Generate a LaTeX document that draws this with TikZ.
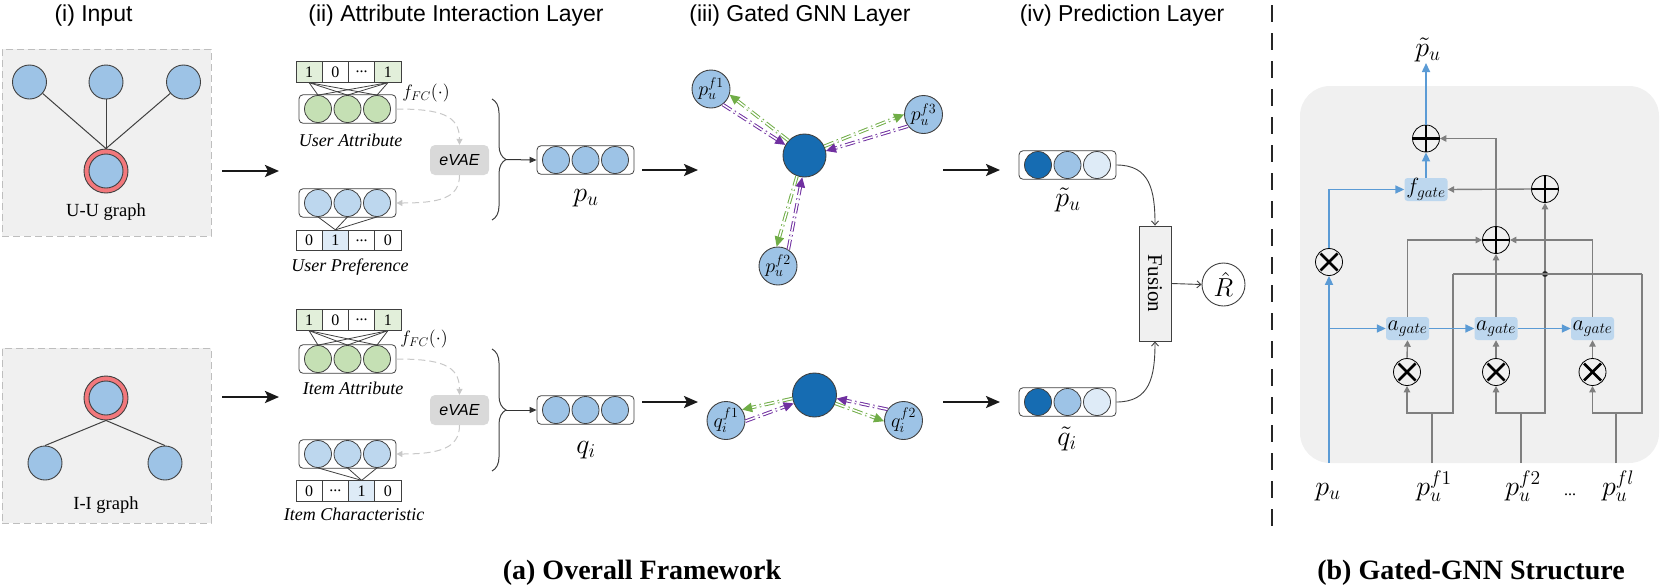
\documentclass[tikz,border=0pt]{standalone}
\usepackage{fontspec}
\setmainfont{Liberation Serif}
\setsansfont{Liberation Sans}
\DeclareFontShape{OML}{cmm}{m}{it}{<->cmmi12}{}
\DeclareFontShape{OMS}{cmsy}{m}{n}{<->cmsy10}{}
\DeclareFontShape{OMX}{cmex}{m}{n}{<->cmex10}{}
\DeclareFontShape{OT1}{cmr}{m}{n}{<->cmr12}{}
\usetikzlibrary{arrows.meta,calc,decorations.pathreplacing}
\newcommand\FS[1]{\fontsize{#1}{#1}\selectfont}
\definecolor{nodeblue}{RGB}{157,195,230}
\definecolor{ringred}{RGB}{242,120,124}
\definecolor{bggray}{RGB}{240,240,240}
\definecolor{dashgray}{RGB}{190,190,190}
\definecolor{evgray}{RGB}{200,200,200}
\definecolor{evfill}{RGB}{217,217,217}
\definecolor{lgreen}{RGB}{197,224,180}
\definecolor{cellgreen}{RGB}{226,239,218}
\definecolor{lblue}{RGB}{189,215,238}
\definecolor{cellblue}{RGB}{222,235,247}
\definecolor{dblue}{RGB}{22,108,178}
\definecolor{vlblue}{RGB}{222,235,247}
\definecolor{ggreen}{RGB}{112,173,71}
\definecolor{gpurple}{RGB}{112,48,160}
\definecolor{lgray}{RGB}{127,127,127}
\definecolor{lineblue}{RGB}{91,155,213}
\definecolor{bgray}{RGB}{64,64,64}
\tikzset{
 hdr/.style={font=\sffamily\FS{23}, anchor=base, inner sep=0},
 gbox/.style={draw=dashgray, dash pattern=on 7pt off 4pt, fill=bggray, line width=1pt, minimum width=209, inner sep=0},
 gnode/.style={circle, draw=bgray, fill=nodeblue, line width=0.9pt, minimum size=34, inner sep=0},
 ring/.style={circle, draw=bgray, fill=ringred, line width=0.9pt, minimum size=44, inner sep=0},
 gedgeline/.style={draw=bgray, line width=1pt},
 glab/.style={font=\FS{18.5}, anchor=base, inner sep=0},
 cell/.style={draw=bgray, line width=0.8pt, minimum width=26.25, minimum height=20.5, inner sep=0, font=\FS{16}},
 vbox/.style={draw=bgray, rounded corners=4pt, line width=0.8pt, minimum width=97, minimum height=28.5, inner sep=0},
 vc/.style={circle, draw=bgray, line width=0.8pt, minimum size=27, inner sep=0},
 fan/.style={draw=bgray, line width=0.8pt},
 lab/.style={font=\itshape\FS{18}, anchor=base, inner sep=0},
 evae/.style={fill=evfill, rounded corners=5pt, minimum width=59, minimum height=30, inner sep=0, font=\sffamily\itshape\FS{16}},
 dasharr/.style={draw=evgray, dash pattern=on 7pt off 4pt, line width=1pt, -{Triangle[length=6pt,width=6pt]}},
 brace/.style={draw=bgray, line width=1pt, decorate, decoration={brace, amplitude=14pt}},
 thinarr/.style={draw=bgray!80!black, line width=1pt, -{Triangle[length=7pt,width=6pt]}},
 predarr/.style={draw=bgray, line width=0.9pt, -{Straight Barb[length=4pt,width=7pt]}},
 bigarr/.style={draw=black!90, line width=2.4pt, -{Stealth[length=14pt,width=12pt,inset=3pt]}},
 mlab/.style={font=\FS{28}, anchor=base, inner sep=0},
 cnode/.style={circle, draw=bgray, fill=dblue, line width=0.9pt, minimum size=43, inner sep=0},
 fnode/.style={circle, draw=bgray, fill=nodeblue, line width=0.9pt, minimum size=38, inner sep=0, font=\FS{20}},
 gedge/.style={draw=ggreen, double=white, double distance=1.5pt, line width=1pt, dash pattern=on 10pt off 3.5pt on 1.5pt off 3.5pt, -{Triangle[length=10pt,width=9.5pt,fill=ggreen]}},
 pedge/.style={draw=gpurple, double=white, double distance=1.5pt, line width=1pt, dash pattern=on 10pt off 3.5pt on 1.5pt off 3.5pt, -{Triangle[length=10pt,width=9.5pt,fill=gpurple]}},
 opl/.style={circle, draw=black, line width=0.8pt, minimum size=27, inner sep=0,
   path picture={\draw[line width=2.6pt] ([yshift=13.5pt]path picture bounding box.center) -- ([yshift=-13.5pt]path picture bounding box.center) ([xshift=-13.5pt]path picture bounding box.center) -- ([xshift=13.5pt]path picture bounding box.center);}},
 otm/.style={circle, draw=black, line width=0.8pt, minimum size=27, inner sep=0,
   path picture={\draw[line width=2.6pt] ([shift={(-8.5pt,-8.5pt)}]path picture bounding box.center) -- ([shift={(8.5pt,8.5pt)}]path picture bounding box.center) ([shift={(-8.5pt,8.5pt)}]path picture bounding box.center) -- ([shift={(8.5pt,-8.5pt)}]path picture bounding box.center);}},
 gate/.style={fill=lblue, rounded corners=3pt, minimum width=43, minimum height=23, inner sep=0, font=\FS{22}},
 garr/.style={draw=lgray, line width=1.4pt, -{Triangle[length=6.5pt,width=6.5pt]}},
 gline/.style={draw=lgray, line width=1.4pt},
 barr/.style={draw=lineblue, line width=1.6pt, -{Triangle[length=9pt,width=8pt]}},
 captxt/.style={font=\bfseries\FS{28}, anchor=base, inner sep=0},
}
\begin{document}
\begin{tikzpicture}[x=1pt,y=-1pt]
\useasboundingbox (0,0) rectangle (1661,587);
% headers
\node[hdr] (h1) at (93.5,21) {(i) Input};
\node[hdr] (h2) at (456,21) {(ii) Attribute Interaction Layer};
\node[hdr] (h3) at (800,21) {(iii) Gated GNN Layer};
\node[hdr] (h4) at (1122,21) {(iv) Prediction Layer};
% U-U graph
\node[gbox, minimum height=187] (uubox) at (106.5,142.5) {};
\node[gnode] (u1) at (29.5,82) {};
\node[gnode] (u2) at (106,82) {};
\node[gnode] (u3) at (183.5,82) {};
\node[ring] (uc) at (106,171) {};
\node[gnode] (ucin) at (106,171) {};
\draw[gedgeline] (u1) -- (uc.north);
\draw[gedgeline] (u2) -- (uc.north);
\draw[gedgeline] (u3) -- (uc.north);
\node[glab] (uulab) at (106,216) {U-U graph};
% I-I graph
\node[gbox, minimum height=175] (iibox) at (106.5,435.5) {};
\node[ring] (ic) at (106,398) {};
\node[gnode] (icin) at (106,398) {};
\node[gnode] (i1) at (45,463) {};
\node[gnode] (i2) at (165,463) {};
\draw[gedgeline] (ic.south) -- (i1.north);
\draw[gedgeline] (ic.south) -- (i2.north);
\node[glab] (iilab) at (106,509) {I-I graph};
% input arrows
\coordinate (ia1s) at (222,171); \coordinate (ia1e) at (279,171);
\coordinate (ia2s) at (222,397); \coordinate (ia2e) at (279,397);
\draw[bigarr] (ia1s) -- (ia1e);
\draw[bigarr] (ia2s) -- (ia2e);
% ---------- user block
\node[cell, fill=cellgreen] (ua1) at (309.1,72) {1};
\node[cell] (ua2) at (335.4,72) {0};
\node[cell] (ua3) at (361.6,72) {...};
\node[cell, fill=cellgreen] (ua4) at (387.9,72) {1};
\node[vbox] (uav) at (347.5,109) {};
\node[vc, fill=lgreen] (uac1) at (318,109) {};
\node[vc, fill=lgreen] (uac2) at (347.5,109) {};
\node[vc, fill=lgreen] (uac3) at (377,109) {};
\foreach \s in {ua1,ua4} \foreach \t in {uac1,uac2,uac3} \draw[fan] (\s.south) -- (\t.north);
\node[font=\FS{18}] (ufc) at (426,93) {$f_{FC}(\cdot)$};
\node[lab] (ualab) at (350.5,146) {User Attribute};
\node[evae] (uev) at (459.5,160) {eVAE};
\node[vbox] (upv) at (347.5,203) {};
\node[vc, fill=lblue] (upc1) at (318,203) {};
\node[vc, fill=lblue] (upc2) at (347.5,203) {};
\node[vc, fill=lblue] (upc3) at (377,203) {};
\node[cell] (ub1) at (309.1,240.5) {0};
\node[cell, fill=cellblue] (ub2) at (335.4,240.5) {1};
\node[cell] (ub3) at (361.6,240.5) {...};
\node[cell] (ub4) at (387.9,240.5) {0};
\foreach \t in {upc1,upc2,upc3} \draw[fan] (ub2.north) -- (\t.south);
\node[lab] (uplab) at (350,271) {User Preference};
\draw[dasharr] (uav.east) .. controls (440,109) and (459.5,115) .. (uev.north);
\draw[dasharr] (uev.south) .. controls (459.5,198) and (440,203) .. (upv.east);
\coordinate (ubr1) at (492,99); \coordinate (ubr2) at (492,220);
\draw[brace] (ubr1) -- (ubr2);
\coordinate (ubt) at (506,159.5);
\node[vbox] (pu) at (585.5,160) {};
\node[vc, fill=nodeblue] (puc1) at (556,160) {};
\node[vc, fill=nodeblue] (puc2) at (585.5,160) {};
\node[vc, fill=nodeblue] (puc3) at (615,160) {};
\draw[thinarr] (ubt) -- (pu.west);
\node[mlab] (pulab) at (586,201) {$p_u$};
% ---------- item block
\node[cell, fill=cellgreen] (ia1) at (309.1,320) {1};
\node[cell] (ia2) at (335.4,320) {0};
\node[cell] (ia3) at (361.6,320) {...};
\node[cell, fill=cellgreen] (ia4) at (387.9,320) {1};
\node[vbox] (iav) at (347.5,359) {};
\node[vc, fill=lgreen] (iac1) at (318,359) {};
\node[vc, fill=lgreen] (iac2) at (347.5,359) {};
\node[vc, fill=lgreen] (iac3) at (377,359) {};
\foreach \s in {ia1,ia4} \foreach \t in {iac1,iac2,iac3} \draw[fan] (\s.south) -- (\t.north);
\node[font=\FS{18}] (ifc) at (424,339) {$f_{FC}(\cdot)$};
\node[lab] (ialab) at (353,394) {Item Attribute};
\node[evae] (iev) at (459.5,410) {eVAE};
\node[vbox] (icv) at (347.5,454) {};
\node[vc, fill=lblue] (icc1) at (318,454) {};
\node[vc, fill=lblue] (icc2) at (347.5,454) {};
\node[vc, fill=lblue] (icc3) at (377,454) {};
\node[cell] (ib1) at (309.1,491) {0};
\node[cell] (ib2) at (335.4,491) {...};
\node[cell, fill=cellblue] (ib3) at (361.6,491) {1};
\node[cell] (ib4) at (387.9,491) {0};
\foreach \t in {icc1,icc2,icc3} \draw[fan] (ib3.north) -- (\t.south);
\node[lab] (iclab) at (354,520) {Item Characteristic};
\draw[dasharr] (iav.east) .. controls (440,359) and (459.5,365) .. (iev.north);
\draw[dasharr] (iev.south) .. controls (459.5,448) and (440,454) .. (icv.east);
\coordinate (ibr1) at (492,349); \coordinate (ibr2) at (492,471);
\draw[brace] (ibr1) -- (ibr2);
\coordinate (ibt) at (506,410);
\node[vbox] (qi) at (585.5,410) {};
\node[vc, fill=nodeblue] (qic1) at (556,410) {};
\node[vc, fill=nodeblue] (qic2) at (585.5,410) {};
\node[vc, fill=nodeblue] (qic3) at (615,410) {};
\draw[thinarr] (ibt) -- (qi.west);
\node[mlab] (qilab) at (586,453) {$q_i$};
% ---------- GNN layer
\coordinate (ga1s) at (642,170); \coordinate (ga1e) at (698,170);
\coordinate (ga2s) at (642,402); \coordinate (ga2e) at (698,402);
\draw[bigarr] (ga1s) -- (ga1e);
\draw[bigarr] (ga2s) -- (ga2e);
\node[cnode] (c1) at (804.5,155.5) {};
\node[fnode] (f1) at (711,89) {$p_u^{f1}$};
\node[fnode] (f3) at (923.5,114.5) {$p_u^{f3}$};
\node[fnode] (f2) at (778,266) {$p_u^{f2}$};
\draw[gedge] (c1.137.9) -- (f1.-17);
\draw[pedge] (f1.-53.8) -- (c1.151.3);
\draw[gedge] (c1.25.7) -- (f3.180.6);
\draw[pedge] (f3.217.4) -- (c1.12.3);
\draw[gedge] (c1.-110.2) -- (f2.94.9);
\draw[pedge] (f2.58.1) -- (c1.-96.8);
\node[cnode, minimum size=44] (c2) at (814.5,395) {};
\node[fnode] (q1) at (726,420.5) {$q_i^{f1}$};
\node[fnode] (q2) at (903.5,420.5) {$q_i^{f2}$};
\draw[gedge] (c2.189.6) -- (q1.34.5);
\draw[pedge] (q1.-2.3) -- (c2.202.6);
\draw[gedge] (c2.-22.5) -- (q2.182.4);
\draw[pedge] (q2.145.6) -- (c2.-9.5);
% ---------- prediction layer
\coordinate (pa1s) at (943,170); \coordinate (pa1e) at (1000,170);
\coordinate (pa2s) at (943,402); \coordinate (pa2e) at (1000,402);
\draw[bigarr] (pa1s) -- (pa1e);
\draw[bigarr] (pa2s) -- (pa2e);
\node[vbox] (ptv) at (1067.5,165) {};
\node[vc, fill=dblue] (ptc1) at (1038,165) {};
\node[vc, fill=nodeblue] (ptc2) at (1067.5,165) {};
\node[vc, fill=vlblue] (ptc3) at (1097,165) {};
\node[mlab] (ptlab) at (1068,206) {$\tilde{p}_u$};
\node[vbox] (qtv) at (1067.5,402) {};
\node[vc, fill=dblue] (qtc1) at (1038,402) {};
\node[vc, fill=nodeblue] (qtc2) at (1067.5,402) {};
\node[vc, fill=vlblue] (qtc3) at (1097,402) {};
\node[mlab] (qtlab) at (1067,445) {$\tilde{q}_i$};
\node[draw=bgray, fill=bggray, line width=0.9pt, minimum width=32, minimum height=115, inner sep=0] (fus) at (1155,283.5) {};
\node[rotate=-90, font=\FS{21}, inner sep=0] (fustxt) at (1155,283.5) {Fusion};
\node[circle, draw=bgray, line width=0.9pt, minimum size=43, inner sep=0, font=\FS{26}] (R) at (1223.5,284.5) {$\hat{R}$};
\draw[predarr] (ptv.east) .. controls (1150,165) and (1155,190) .. (fus.north);
\draw[predarr] (qtv.east) .. controls (1150,402) and (1155,377) .. (fus.south);
\draw[predarr] (fus.east) -- (R.west);
% separator
\coordinate (sept) at (1272,5); \coordinate (sepb) at (1272,527);
\draw[black!85, line width=2.2pt, dash pattern=on 17pt off 11pt] (sept) -- (sepb);
% ---------- Gated GNN structure
\node[fill=bggray, rounded corners=30pt, minimum width=359, minimum height=377, inner sep=0] (gbg) at (1479.5,274.5) {};
\node[opl] (O1) at (1426,138.5) {};
\node[gate] (fg) at (1426,189.5) {$f_{gate}$};
\node[opl] (O2) at (1545,189) {};
\node[opl] (O3) at (1496,240) {};
\node[otm] (X0) at (1329,262) {};
\node[gate] (A1) at (1407.5,328.5) {$a_{gate}$};
\node[gate] (A2) at (1496,328.5) {$a_{gate}$};
\node[gate] (A3) at (1592.5,328.5) {$a_{gate}$};
\node[otm] (X1) at (1407,372) {};
\node[otm] (X2) at (1496,372) {};
\node[otm] (X3) at (1592.5,372) {};
\node[circle, fill=black!85, minimum size=6, inner sep=0] (dot) at (1545,274) {};
\coordinate (ptop) at (1426,63);
\coordinate (pu0) at (1329,463);
\coordinate (in1) at (1432,463); \coordinate (s1) at (1432,413);
\coordinate (in2) at (1521,463); \coordinate (s2) at (1521,413);
\coordinate (in3) at (1616,463); \coordinate (s3) at (1616,413);
\coordinate (bus1) at (1453,274); \coordinate (bus3) at (1642,274);
% gray connectors
\draw[gline] (in1) -- (s1);
\draw[garr] (s1) -| (X1.south);
\draw[gline] (s1) -| (bus1);
\draw[gline] (in2) -- (s2);
\draw[garr] (s2) -| (X2.south);
\draw[gline] (s2) -| (dot);
\draw[gline] (in3) -- (s3);
\draw[garr] (s3) -| (X3.south);
\draw[gline] (s3) -| (bus3);
\draw[gline] (bus1) -- (bus3);
\draw[garr] (X1.north) -- (A1.south);
\draw[garr] (X2.north) -- (A2.south);
\draw[garr] (X3.north) -- (A3.south);
\draw[garr] (A1.north) |- (O3.west);
\draw[garr] (A2.north) -- (O3.south);
\draw[garr] (A3.north) |- (O3.east);
\draw[garr] (dot) -- (O2.south);
\draw[garr] (O2.west) -- (fg.east);
\draw[garr] (O3.north) |- (O1.east);
% blue connectors
\draw[barr] (pu0) -- (X0.south);
\draw[barr] (pu0 |- A1.west) -- (A1.west);
\draw[barr] (A1.east) -- (A2.west);
\draw[barr] (A2.east) -- (A3.west);
\draw[barr] (X0.north) |- (fg.west);
\draw[barr] (fg.north) -- (O1.south);
\draw[barr] (O1.north) -- (ptop);
\node[mlab] (gptl) at (1428,56) {$\tilde{p}_u$};
\node[mlab] (gpu) at (1328,495) {$p_u$};
\node[mlab] (gf1) at (1434,495) {$p_u^{f1}$};
\node[mlab] (gf2) at (1523,495) {$p_u^{f2}$};
\node[font=\FS{16}, anchor=base, inner sep=0] (gdots) at (1570,495) {...};
\node[mlab] (gfl) at (1618,495) {$p_u^{fl}$};
% captions
\node[captxt] (capa) at (642,579) {(a) Overall Framework};
\node[captxt] (capb) at (1471,579) {(b) Gated-GNN Structure};
\end{tikzpicture}
\end{document}
